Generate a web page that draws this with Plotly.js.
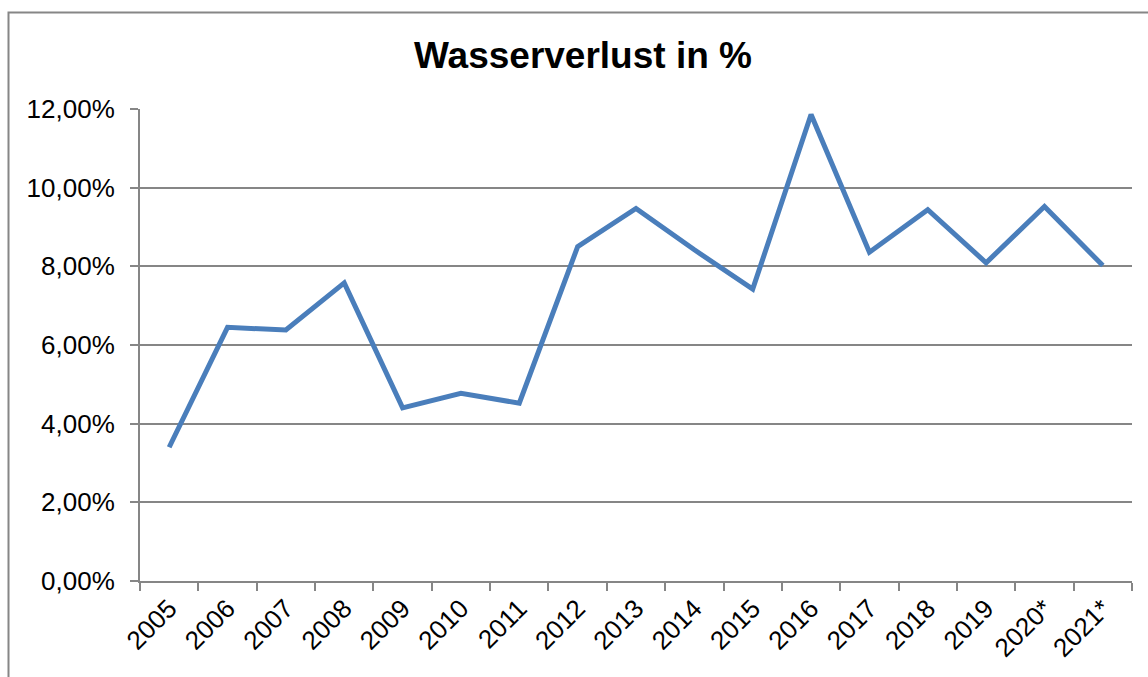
<!DOCTYPE html>
<html>
<head>
<meta charset="utf-8">
<script src="https://cdn.plot.ly/plotly-3.0.1.min.js"></script>
<style>html,body{margin:0;padding:0;background:#fff;}#chart{width:1148px;height:677px;}</style>
</head>
<body>
<div id="chart"></div>
<script>
const years = ["2005","2006","2007","2008","2009","2010","2011","2012","2013","2014","2015","2016","2017","2018","2019","2020*","2021*"];
const verlustProzent = [3.40, 6.45, 6.38, 7.58, 4.40, 4.77, 4.52, 8.50, 9.47, 8.42, 7.42, 11.86, 8.36, 9.44, 8.09, 9.52, 8.02];
const yTicks = [0, 2, 4, 6, 8, 10, 12];
const yTickLabels = yTicks.map(v => v.toFixed(2).replace('.', ',') + '%');

const gridColor = '#868686';
const fontFam = '"Liberation Sans", Arial, sans-serif';

const trace = {
  x: years,
  y: verlustProzent,
  type: 'scatter',
  mode: 'lines',
  line: {color: '#4a7ebb', width: 5},
  hoverinfo: 'x+y'
};

const layout = {
  width: 1148,
  height: 677,
  margin: {l: 140, r: 16, t: 109, b: 96},
  paper_bgcolor: '#ffffff',
  plot_bgcolor: '#ffffff',
  showlegend: false,
  font: {family: fontFam, color: '#000000', size: 26},
  title: {
    text: '<b>Wasserverlust in %</b>',
    font: {family: fontFam, size: 37, color: '#000000'},
    x: 583/1148, xanchor: 'center',
    y: 1 - 55/677, yanchor: 'middle',
    xref: 'container', yref: 'container'
  },
  xaxis: {
    type: 'category',
    tickangle: -45,
    tickson: 'boundaries',
    ticks: 'outside',
    ticklen: 8,
    tickwidth: 2,
    tickcolor: gridColor,
    showline: true,
    linecolor: gridColor,
    linewidth: 2,
    showgrid: false,
    zeroline: false,
    tickfont: {family: fontFam, size: 26, color: '#000000'},
    range: [-0.5, years.length - 0.5],
    fixedrange: true
  },
  yaxis: {
    range: [0, 12],
    tickvals: yTicks,
    ticktext: yTickLabels,
    ticks: 'outside',
    ticklen: 8,
    tickwidth: 2,
    tickcolor: gridColor,
    showline: true,
    linecolor: gridColor,
    linewidth: 2,
    showgrid: true,
    gridcolor: gridColor,
    gridwidth: 2,
    zeroline: false,
    ticklabelstandoff: 10,
    tickfont: {family: fontFam, size: 26, color: '#000000'},
    fixedrange: true
  },
  shapes: [{
    type: 'rect',
    xref: 'paper', yref: 'paper',
    x0: (8.5 - 140) / 992, x1: 1.1,
    y0: -0.5, y1: (581 - 12.5) / 472,
    line: {color: '#868686', width: 2},
    fillcolor: 'rgba(0,0,0,0)',
    layer: 'below'
  }]
};

Plotly.newPlot('chart', [trace], layout, {displayModeBar: false, staticPlot: true});
</script>
</body>
</html>
